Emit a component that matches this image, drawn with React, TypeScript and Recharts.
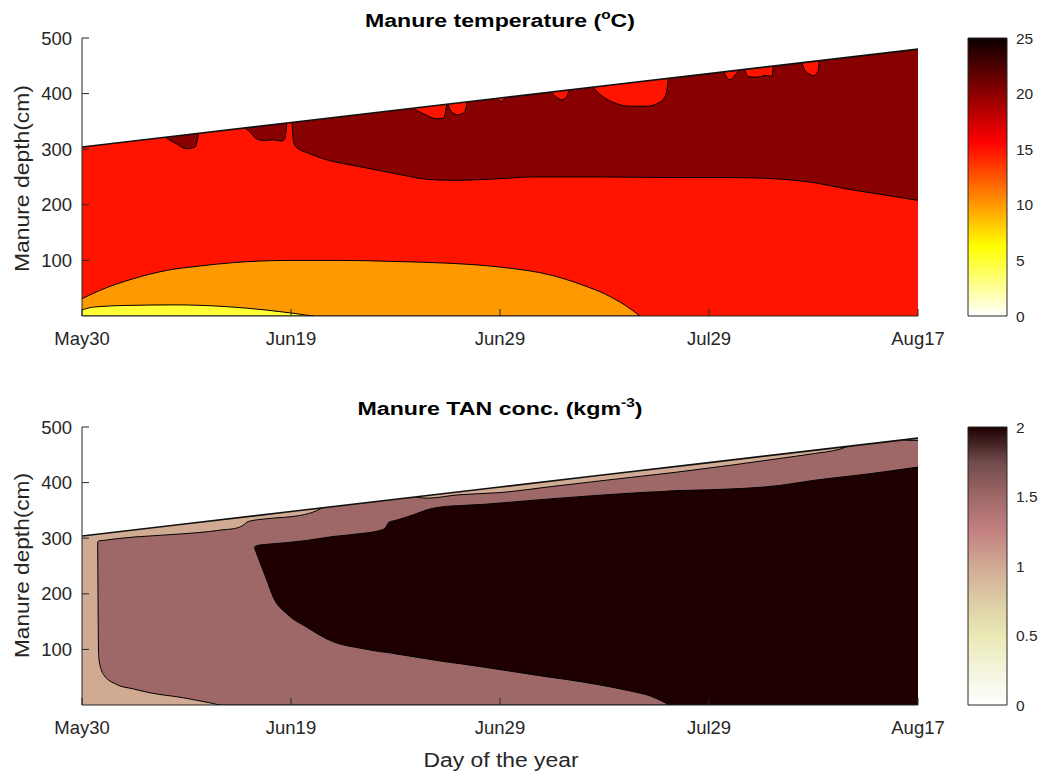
import React from 'react';
import { ComposedChart, BarChart, Area, Line, Bar, XAxis, YAxis } from 'recharts';

// axis ticks shared by both panels
const dateTicks = [0, 20, 40, 60, 80];
const dateLabels = ['May30', 'Jun19', 'Jun29', 'Jul29', 'Aug17'];
const depthTicks = [100, 200, 300, 400, 500];
const tempTicks = [0, 5, 10, 15, 20, 25];
const tanTicks = [0, 0.5, 1, 1.5, 2];

// manure surface level (cm) over the season
const surfaceDay = [0, 10, 20, 30, 40, 50, 60, 70, 80];
const surfaceDepth = [304, 326, 348, 370, 392, 414, 436, 458, 480];

// ---- temperature bands ----
// 10-15 degC band, upper edge
const orangeDay = [0, 1.7, 4.9, 8.1, 11.3, 14.5, 20, 25, 30, 35, 40, 45, 48, 50, 52, 53.4];
const orangeTop = [31, 46, 67, 82, 90, 96, 100, 100, 98, 95, 88, 73, 55, 40, 19, 0];
// 5-10 degC band, upper edge
const yellowDay = [0, 1.1, 4.3, 8.9, 13.7, 17.5, 19.9, 21.5, 22.2];
const yellowTop = [11, 16, 19, 20, 17, 11, 5.7, 1.5, 0];
// >20 degC core, lower edge
const warmCoreDay = [20.1, 20.25, 20.5, 21.8, 23.4, 25.6, 27, 30, 33, 35.5, 40, 43, 50, 57, 62, 67, 70, 73, 76, 80];
const warmCoreFloor = [348, 312, 304, 292, 281, 272, 267, 256, 246, 244, 247, 250, 250, 249, 249, 246, 240, 229, 220, 208];
// early >20 degC pockets under the surface
const warmPocketDays = [
  [8.0, 8.5, 9.05, 10, 10.8, 11.0, 11.15],
  [15.6, 16.1, 16.7, 17.5, 18.3, 19.1, 19.4, 19.6],
];
const warmPocketFloor = [
  [321.5, 315, 309.7, 300.7, 303.6, 312.6, 328],
  [338, 330.6, 318.7, 315.6, 317, 314.4, 318.7, 347],
];
// cooler 15-20 degC pockets hanging from the surface
const coolPocketDays = [
  [31.7, 32.2, 32.7, 33.9, 34.6, 34.9],
  [35.0, 35.4, 36.0, 36.6, 36.85],
  [39.7, 40.1, 40.5],
  [44.9, 45.4, 45.9, 46.4, 46.6],
  [48.9, 49.5, 50.8, 52.4, 54.0, 55.3, 55.9, 56.1],
  [61.4, 62.0, 62.6, 62.85],
  [63.4, 63.75, 64.5, 65.5, 66.0, 66.15],
  [68.9, 69.2, 70.0, 70.4, 70.55],
];
const coolPocketFloor = [
  [374, 368, 363.7, 354.7, 355.8, 380.5],
  [380.8, 366.5, 361.9, 366.5, 384.6],
  [391, 385.8, 392.5],
  [402, 393.5, 388.8, 395.3, 406],
  [411, 399.6, 384.5, 377.3, 377.3, 384.5, 399.6, 427],
  [438.7, 424.8, 435.6, 441.5],
  [443, 430.8, 429.5, 432.6, 430.8, 449],
  [455, 441.5, 432.6, 438.5, 458.5],
];

// ---- TAN concentration bands ----
// 1.5-2 kg/m3 zone
const midDay = [1.5, 1.6, 2.05, 3.3, 4.9, 6.5, 9.7, 12.2, 13.4, 14.5, 15.4, 15.9, 17.7, 20.9, 22.4, 23.4, 26, 28, 31, 33, 36, 40, 45, 50, 57, 62, 66.8, 70, 72.5, 74, 76, 78, 79, 80];
const midFloor = [293, 85, 55, 37, 29, 22, 13, 4, 0, 0, 0, 0, 0, 0, 0, 0, 0, 0, 0, 0, 0, 0, 0, 0, 0, 0, 0, 0, 0, 0, 0, 0, 0, 0];
const midTop = [293, 295, 296, 299, 302, 304, 308, 312, 315, 317, 323, 330, 335, 341, 349, 359, 372, 380, 377, 372, 378, 382, 393, 404, 419, 431, 443.5, 452, 460, 470, 478, 480, 476, 476];
// >2 kg/m3 core
const coreDay = [16.5, 16.8, 17.7, 18.3, 19.6, 21.5, 24, 27, 28.5, 29.0, 29.4, 30, 32, 33, 34.3, 36.5, 38.5, 43, 49.3, 52.5, 54.4, 55.7, 56.2, 60, 66.8, 70, 75, 80];
const coreFloor = [283, 268, 224, 194, 164, 140, 114, 101, 96, 95, 94, 92, 86, 83, 79, 73.5, 68, 55, 37, 25, 16, 5, 0, 0, 0, 0, 0, 0];
const coreTop = [284, 287, 289, 290, 292, 296, 303, 309, 314, 318, 329, 332, 344, 351, 356, 359, 361, 368, 377, 381, 383, 384, 385, 387, 395, 404, 415, 428];

const CEILING = 500;
const INK = '#262626';
const FONT = '"Liberation Sans", Arial, Helvetica, sans-serif';

type Row = { day: number; range: [number, number] };
type Layer = { rows: Row[]; fill: string; stroke: string };

function band(days: number[], low: number[] | number, high: number[] | number): Row[] {
  return days.map((day, i) => ({
    day,
    range: [Array.isArray(low) ? low[i] : low, Array.isArray(high) ? high[i] : high],
  }));
}

const surfaceRows = surfaceDay.map((day, i) => ({ day, depth: surfaceDepth[i] }));
const airRows = band(surfaceDay, surfaceDepth, CEILING);

const temperatureLayers: Layer[] = [
  { rows: band([0, 80], 0, CEILING), fill: '#ff1400', stroke: 'none' },
  { rows: band(warmCoreDay, warmCoreFloor, CEILING), fill: '#880000', stroke: '#000' },
  ...warmPocketDays.map((d, i) => ({ rows: band(d, warmPocketFloor[i], CEILING), fill: '#880000', stroke: '#000' })),
  ...coolPocketDays.map((d, i) => ({ rows: band(d, coolPocketFloor[i], CEILING), fill: '#ff1400', stroke: '#000' })),
  { rows: band(orangeDay, 0, orangeTop), fill: '#ff9900', stroke: '#000' },
  { rows: band(yellowDay, 0, yellowTop), fill: '#ffff33', stroke: '#000' },
];

const tanLayers: Layer[] = [
  { rows: band([0, 80], 0, CEILING), fill: '#d0aa93', stroke: 'none' },
  { rows: band(midDay, midFloor, midTop), fill: '#9f6868', stroke: '#000' },
  { rows: band(coreDay, coreFloor, coreTop), fill: '#1e0000', stroke: '#000' },
];

const TICK_LEN = 7;

// tick renderers draw the inward tick mark plus the label
const bottomTick = (p: any) => (
  <g>
    <line x1={p.x} x2={p.x} y1={p.y - 16} y2={p.y - 16 - TICK_LEN} stroke={INK} />
    <text x={p.x} y={p.y} dy="0.72em" textAnchor="middle" fontSize={18.5} fill={INK}>
      {dateLabels[dateTicks.indexOf(p.payload.value)]}
    </text>
  </g>
);
const leftTick = (p: any) => (
  <g>
    <line x1={p.x + 10} x2={p.x + 10 + TICK_LEN} y1={p.y} y2={p.y} stroke={INK} />
    <text x={p.x} y={p.y} dy="0.36em" textAnchor="end" fontSize={18.5} fill={INK}>
      {p.payload.value}
    </text>
  </g>
);
const topTick = (p: any) => (
  <line x1={p.x} x2={p.x} y1={p.y} y2={p.y + TICK_LEN} stroke={INK} />
);
const rightTick = (p: any) => (
  <line x1={p.x} x2={p.x - TICK_LEN} y1={p.y} y2={p.y} stroke={INK} />
);

function ContourPanel({ layers, top }: { layers: Layer[]; top: number }) {
  return (
    <div style={{ position: 'absolute', left: 0, top }}>
      <ComposedChart width={1000} height={360} margin={{ top: 38, right: 82, bottom: 14, left: 22 }}>
        {layers.map((l, i) => (
          <Area
            key={i}
            data={l.rows}
            dataKey="range"
            type="monotone"
            fill={l.fill}
            fillOpacity={1}
            stroke={l.stroke}
            strokeWidth={1}
            dot={false}
            activeDot={false}
            isAnimationActive={false}
          />
        ))}
        <Area
          data={airRows}
          dataKey="range"
          type="linear"
          fill="#ffffff"
          fillOpacity={1}
          stroke="none"
          dot={false}
          activeDot={false}
          isAnimationActive={false}
        />
        <Line
          data={surfaceRows}
          dataKey="depth"
          type="linear"
          stroke="#111"
          strokeWidth={1.6}
          dot={false}
          activeDot={false}
          isAnimationActive={false}
        />
        <XAxis
          dataKey="day"
          type="number"
          domain={[0, 80]}
          ticks={dateTicks}
          allowDataOverflow
          height={30}
          tickSize={0}
          tickMargin={16}
          tickLine={false}
          axisLine={{ stroke: INK }}
          tick={bottomTick}
        />
        <XAxis
          xAxisId="frameTop"
          orientation="top"
          type="number"
          domain={[0, 80]}
          ticks={[20, 40, 60]}
          height={0}
          tickSize={0}
          tickMargin={0}
          tickLine={false}
          axisLine={{ stroke: INK }}
          tick={topTick}
        />
        <YAxis
          type="number"
          domain={[0, CEILING]}
          ticks={depthTicks}
          allowDataOverflow
          width={60}
          tickSize={0}
          tickMargin={10}
          tickLine={false}
          axisLine={{ stroke: INK }}
          tick={leftTick}
        />
        <YAxis
          yAxisId="frameRight"
          orientation="right"
          type="number"
          domain={[0, CEILING]}
          ticks={[100, 200, 300, 400]}
          width={0}
          tickSize={0}
          tickMargin={0}
          tickLine={false}
          axisLine={{ stroke: INK }}
          tick={rightTick}
        />
      </ComposedChart>
    </div>
  );
}

function ColorScale({ top, id, stops, ticks, max }: {
  top: number;
  id: string;
  stops: [number, string][];
  ticks: number[];
  max: number;
}) {
  return (
    <div style={{ position: 'absolute', left: 958, top }}>
      <BarChart
        width={86}
        height={360}
        data={[{ key: 'scale', top: max }]}
        margin={{ top: 38, right: 0, bottom: 44, left: 10 }}
        barCategoryGap={0}
      >
        <defs>
          <linearGradient id={id} x1="0" y1="0" x2="0" y2="1">
            {stops.map(([o, c]) => (
              <stop key={o} offset={o} stopColor={c} />
            ))}
          </linearGradient>
        </defs>
        <Bar dataKey="top" fill={`url(#${id})`} stroke={INK} strokeWidth={1} isAnimationActive={false} />
        <XAxis dataKey="key" hide />
        <YAxis
          orientation="right"
          type="number"
          domain={[0, max]}
          ticks={ticks}
          width={37}
          tickSize={0}
          tickMargin={9}
          tickLine={false}
          axisLine={false}
          tick={{ fontSize: 15.5, fill: INK }}
        />
      </BarChart>
    </div>
  );
}

const hotStops: [number, string][] = [
  [0, '#0b0000'],
  [0.375, '#ff0000'],
  [0.75, '#ffff00'],
  [1, '#ffffff'],
];
const pinkStops: [number, string][] = [
  [0, '#1e0000'],
  [0.125, '#704a4a'],
  [0.25, '#9f6868'],
  [0.375, '#c38080'],
  [0.5, '#d0aa93'],
  [0.625, '#ddcca5'],
  [0.75, '#e9e9b4'],
  [0.875, '#f4f4dd'],
  [1, '#ffffff'],
];

export default function App() {
  return (
    <div
      style={{
        position: 'absolute',
        left: 0,
        top: 0,
        width: 1044,
        height: 773,
        background: '#fff',
        fontFamily: FONT,
        overflow: 'hidden',
      }}
    >
      <ContourPanel layers={temperatureLayers} top={0} />
      <ContourPanel layers={tanLayers} top={389} />
      <ColorScale top={0} id="hotScale" stops={hotStops} ticks={tempTicks} max={25} />
      <ColorScale top={389} id="pinkScale" stops={pinkStops} ticks={tanTicks} max={2} />
      <svg
        width={1044}
        height={773}
        style={{ position: 'absolute', left: 0, top: 0, pointerEvents: 'none' }}
        fontFamily={FONT}
      >
        <text x={500} y={27} textAnchor="middle" fontSize={18} fontWeight="bold" fill="#000" textLength={270} lengthAdjust="spacingAndGlyphs">
          Manure temperature (<tspan fontSize={12} dy={-8}>o</tspan>
          <tspan dy={8}>C)</tspan>
        </text>
        <text x={500} y={415} textAnchor="middle" fontSize={18} fontWeight="bold" fill="#000" textLength={285} lengthAdjust="spacingAndGlyphs">
          Manure TAN conc. (kgm<tspan fontSize={12} dy={-8}>-3</tspan>
          <tspan dy={8}>)</tspan>
        </text>
        <text transform="translate(28.5,178.5) rotate(-90)" textAnchor="middle" fontSize={20} fill={INK} textLength={187} lengthAdjust="spacingAndGlyphs">
          Manure depth(cm)
        </text>
        <text transform="translate(28.5,565.5) rotate(-90)" textAnchor="middle" fontSize={20} fill={INK} textLength={185} lengthAdjust="spacingAndGlyphs">
          Manure depth(cm)
        </text>
        <text x={501} y={766.5} textAnchor="middle" fontSize={20} fill={INK} textLength={155} lengthAdjust="spacingAndGlyphs">
          Day of the year
        </text>
      </svg>
    </div>
  );
}
